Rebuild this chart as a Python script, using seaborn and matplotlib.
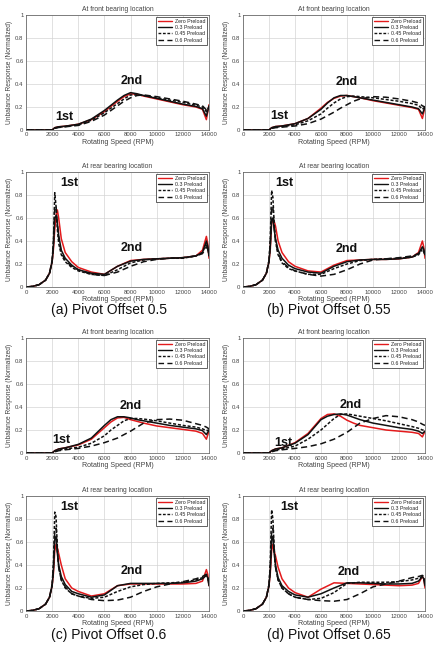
import numpy as np
import pandas as pd
import matplotlib
matplotlib.use("Agg")
import matplotlib.pyplot as plt
import seaborn as sns

# ---- data -----------------------------------------------------------------
labels = ["Zero Preload", "0.3 Preload", "0.45 Preload", "0.6 Preload"]

rpm_front = [0, 2000, 2200, 2500, 3000, 4000, 5000, 6000, 6500, 7000, 7500,
             8000, 8500, 9000, 10000, 11000, 12000, 13000, 13500, 13800, 14000]

rpm_rear = [0, 500, 1000, 1500, 1800, 2000, 2100, 2200, 2300, 2400, 2500, 2700,
            3000, 3500, 4000, 5000, 6000, 7000, 8000, 9000, 10000, 11000,
            12000, 13000, 13500, 13800, 13900, 14000]

# Pivot offset 0.5
front_a_zero = [0, 0, 0.02, 0.028, 0.033, 0.05, 0.09, 0.16, 0.205, 0.25, 0.29, 0.315, 0.31, 0.295, 0.27, 0.245, 0.22, 0.2, 0.18, 0.09, 0.22]
front_a_03 = [0, 0, 0.02, 0.028, 0.033, 0.05, 0.095, 0.17, 0.215, 0.26, 0.3, 0.325, 0.315, 0.3, 0.275, 0.25, 0.225, 0.205, 0.185, 0.12, 0.21]
front_a_045 = [0, 0, 0.015, 0.025, 0.03, 0.045, 0.085, 0.15, 0.19, 0.23, 0.27, 0.305, 0.305, 0.3, 0.28, 0.26, 0.24, 0.215, 0.2, 0.16, 0.2]
front_a_06 = [0, 0, 0.015, 0.022, 0.028, 0.04, 0.075, 0.13, 0.17, 0.21, 0.25, 0.28, 0.3, 0.305, 0.29, 0.27, 0.25, 0.225, 0.21, 0.175, 0.2]

rear_a_zero = [0, 0.005, 0.02, 0.06, 0.12, 0.22, 0.33, 0.5, 0.62, 0.67, 0.6, 0.42, 0.3, 0.22, 0.17, 0.13, 0.11, 0.18, 0.23, 0.24, 0.245, 0.25, 0.255, 0.27, 0.32, 0.44, 0.38, 0.25]
rear_a_03 = [0, 0.005, 0.02, 0.06, 0.12, 0.22, 0.36, 0.6, 0.62, 0.55, 0.45, 0.32, 0.25, 0.19, 0.15, 0.12, 0.11, 0.18, 0.225, 0.24, 0.245, 0.25, 0.255, 0.27, 0.3, 0.4, 0.36, 0.27]
rear_a_045 = [0, 0.005, 0.02, 0.06, 0.12, 0.23, 0.4, 0.82, 0.7, 0.5, 0.38, 0.28, 0.22, 0.17, 0.14, 0.11, 0.1, 0.15, 0.21, 0.235, 0.245, 0.25, 0.25, 0.27, 0.3, 0.38, 0.34, 0.27]
rear_a_06 = [0, 0.005, 0.02, 0.06, 0.12, 0.23, 0.38, 0.7, 0.7, 0.55, 0.42, 0.3, 0.23, 0.18, 0.15, 0.11, 0.1, 0.13, 0.18, 0.22, 0.24, 0.25, 0.255, 0.27, 0.29, 0.35, 0.33, 0.28]

# Pivot offset 0.55
front_b_zero = [0, 0, 0.02, 0.03, 0.035, 0.055, 0.1, 0.19, 0.24, 0.275, 0.295, 0.3, 0.29, 0.28, 0.255, 0.235, 0.215, 0.195, 0.18, 0.1, 0.2]
front_b_03 = [0, 0, 0.02, 0.03, 0.035, 0.055, 0.1, 0.18, 0.235, 0.28, 0.3, 0.3, 0.29, 0.28, 0.26, 0.24, 0.22, 0.2, 0.185, 0.14, 0.2]
front_b_045 = [0, 0, 0.015, 0.025, 0.03, 0.045, 0.08, 0.14, 0.19, 0.235, 0.27, 0.29, 0.295, 0.29, 0.28, 0.265, 0.25, 0.23, 0.215, 0.18, 0.2]
front_b_06 = [0, 0, 0.015, 0.02, 0.025, 0.035, 0.055, 0.095, 0.125, 0.155, 0.19, 0.22, 0.25, 0.27, 0.29, 0.285, 0.27, 0.25, 0.235, 0.21, 0.2]

rear_b_zero = [0, 0.005, 0.02, 0.06, 0.12, 0.22, 0.33, 0.55, 0.58, 0.57, 0.53, 0.4, 0.3, 0.22, 0.18, 0.14, 0.13, 0.19, 0.23, 0.235, 0.24, 0.24, 0.245, 0.26, 0.3, 0.4, 0.35, 0.25]
rear_b_03 = [0, 0.005, 0.02, 0.06, 0.12, 0.22, 0.36, 0.58, 0.6, 0.5, 0.42, 0.32, 0.25, 0.19, 0.16, 0.13, 0.12, 0.18, 0.22, 0.235, 0.24, 0.24, 0.245, 0.26, 0.29, 0.35, 0.33, 0.28]
rear_b_045 = [0, 0.005, 0.02, 0.06, 0.12, 0.23, 0.42, 0.84, 0.78, 0.55, 0.4, 0.28, 0.21, 0.16, 0.14, 0.11, 0.11, 0.16, 0.2, 0.23, 0.24, 0.245, 0.25, 0.26, 0.28, 0.33, 0.31, 0.28]
rear_b_06 = [0, 0.005, 0.02, 0.06, 0.12, 0.23, 0.38, 0.7, 0.7, 0.52, 0.4, 0.29, 0.22, 0.17, 0.14, 0.11, 0.095, 0.11, 0.15, 0.2, 0.235, 0.245, 0.255, 0.27, 0.29, 0.32, 0.31, 0.28]

# Pivot offset 0.6
front_c_zero = [0, 0, 0.02, 0.035, 0.045, 0.07, 0.12, 0.22, 0.27, 0.305, 0.31, 0.29, 0.275, 0.26, 0.235, 0.22, 0.205, 0.19, 0.17, 0.12, 0.19]
front_c_03 = [0, 0, 0.02, 0.035, 0.045, 0.075, 0.13, 0.24, 0.29, 0.315, 0.315, 0.305, 0.29, 0.28, 0.26, 0.24, 0.225, 0.21, 0.195, 0.16, 0.2]
front_c_045 = [0, 0, 0.015, 0.025, 0.035, 0.05, 0.085, 0.15, 0.2, 0.24, 0.28, 0.3, 0.3, 0.295, 0.28, 0.26, 0.24, 0.225, 0.21, 0.195, 0.2]
front_c_06 = [0, 0, 0.01, 0.02, 0.028, 0.04, 0.06, 0.09, 0.11, 0.13, 0.16, 0.19, 0.225, 0.26, 0.29, 0.295, 0.285, 0.255, 0.24, 0.225, 0.21]

rear_c_zero = [0, 0.005, 0.02, 0.06, 0.12, 0.22, 0.33, 0.52, 0.58, 0.55, 0.5, 0.4, 0.28, 0.2, 0.17, 0.13, 0.15, 0.22, 0.235, 0.235, 0.235, 0.235, 0.235, 0.24, 0.26, 0.36, 0.32, 0.22]
rear_c_03 = [0, 0.005, 0.02, 0.06, 0.12, 0.22, 0.36, 0.62, 0.65, 0.5, 0.4, 0.3, 0.23, 0.17, 0.15, 0.12, 0.14, 0.22, 0.24, 0.24, 0.24, 0.24, 0.245, 0.26, 0.28, 0.31, 0.29, 0.22]
rear_c_045 = [0, 0.005, 0.02, 0.06, 0.12, 0.23, 0.42, 0.86, 0.82, 0.55, 0.38, 0.27, 0.2, 0.15, 0.13, 0.11, 0.12, 0.17, 0.21, 0.23, 0.24, 0.245, 0.25, 0.27, 0.29, 0.31, 0.3, 0.23]
rear_c_06 = [0, 0.005, 0.02, 0.06, 0.12, 0.23, 0.38, 0.7, 0.72, 0.52, 0.38, 0.27, 0.21, 0.15, 0.13, 0.1, 0.09, 0.095, 0.12, 0.17, 0.21, 0.235, 0.255, 0.28, 0.3, 0.32, 0.31, 0.24]

# Pivot offset 0.65
front_d_zero = [0, 0, 0.02, 0.035, 0.045, 0.09, 0.17, 0.3, 0.335, 0.34, 0.32, 0.285, 0.26, 0.24, 0.22, 0.2, 0.19, 0.18, 0.17, 0.14, 0.19]
front_d_03 = [0, 0, 0.02, 0.035, 0.045, 0.085, 0.16, 0.29, 0.32, 0.335, 0.34, 0.33, 0.31, 0.29, 0.26, 0.24, 0.22, 0.205, 0.19, 0.17, 0.19]
front_d_045 = [0, 0, 0.015, 0.025, 0.035, 0.06, 0.12, 0.2, 0.25, 0.3, 0.335, 0.34, 0.33, 0.32, 0.3, 0.28, 0.255, 0.23, 0.215, 0.2, 0.2]
front_d_06 = [0, 0, 0.01, 0.02, 0.028, 0.04, 0.055, 0.08, 0.1, 0.12, 0.15, 0.18, 0.22, 0.26, 0.3, 0.325, 0.315, 0.29, 0.27, 0.25, 0.24]

rear_d_zero = [0, 0.005, 0.02, 0.06, 0.12, 0.22, 0.33, 0.52, 0.58, 0.52, 0.48, 0.38, 0.28, 0.2, 0.16, 0.12, 0.19, 0.245, 0.24, 0.235, 0.23, 0.225, 0.22, 0.225, 0.24, 0.3, 0.28, 0.2]
rear_d_03 = [0, 0.005, 0.02, 0.06, 0.12, 0.22, 0.36, 0.62, 0.65, 0.5, 0.4, 0.29, 0.22, 0.17, 0.14, 0.12, 0.15, 0.2, 0.245, 0.245, 0.24, 0.235, 0.235, 0.24, 0.26, 0.3, 0.28, 0.22]
rear_d_045 = [0, 0.005, 0.02, 0.06, 0.12, 0.23, 0.42, 0.88, 0.8, 0.55, 0.38, 0.27, 0.2, 0.15, 0.12, 0.1, 0.11, 0.16, 0.24, 0.25, 0.25, 0.25, 0.255, 0.27, 0.285, 0.3, 0.29, 0.24]
rear_d_06 = [0, 0.005, 0.02, 0.06, 0.12, 0.23, 0.38, 0.7, 0.72, 0.52, 0.38, 0.27, 0.2, 0.15, 0.12, 0.1, 0.09, 0.085, 0.1, 0.15, 0.21, 0.235, 0.26, 0.29, 0.3, 0.31, 0.3, 0.25]

captions = ["(a) Pivot Offset 0.5", "(b) Pivot Offset 0.55",
            "(c) Pivot Offset 0.6", "(d) Pivot Offset 0.65"]
x_ticks = [0, 2000, 4000, 6000, 8000, 10000, 12000, 14000]
y_ticks = [0, 0.2, 0.4, 0.6, 0.8, 1.0]
y_tick_labels = ["0", "0.2", "0.4", "0.6", "0.8", "1"]

# ---- style ----------------------------------------------------------------
sns.set_theme(style="whitegrid")
plt.rcParams["font.family"] = ["Liberation Sans", "DejaVu Sans"]

palette = {"Zero Preload": "#e31a1c", "0.3 Preload": "#111111",
           "0.45 Preload": "#111111", "0.6 Preload": "#111111"}
dashes = {"Zero Preload": "", "0.3 Preload": "",
          "0.45 Preload": (2.0, 1.2), "0.6 Preload": (4.0, 2.4)}

W, H = 434, 647
fig = plt.figure(figsize=(W / 100, H / 100), dpi=100)
fig.patch.set_facecolor("white")


def make_axes(left, right, top, bottom):
    return fig.add_axes([left / W, 1 - bottom / H, (right - left) / W, (bottom - top) / H])


def draw(ax, rpm, curves, title, first_pos, second_pos):
    frames = [pd.DataFrame({"rpm": rpm, "resp": vals, "preload": lab})
              for lab, vals in zip(labels, curves)]
    df = pd.concat(frames, ignore_index=True)
    sns.lineplot(data=df, x="rpm", y="resp", hue="preload", style="preload",
                 hue_order=labels, style_order=labels, palette=palette,
                 dashes=dashes, estimator=None, linewidth=1.1, ax=ax)
    ax.set_xlim(0, 14000)
    ax.set_ylim(0, 1)
    ax.set_xticks(x_ticks)
    ax.set_xticklabels([str(t) for t in x_ticks])
    ax.set_yticks(y_ticks)
    ax.set_yticklabels(y_tick_labels)
    ax.grid(True, color="#d4d4d4", linewidth=0.5)
    for sp in ax.spines.values():
        sp.set_color("#555555")
        sp.set_linewidth(0.5)
    ax.tick_params(direction="in", length=1.5, width=0.4, labelsize=4.3,
                   pad=1.8, colors="#555555", labelcolor="#444444")
    ax.set_title(title, fontsize=4.9, color="#444444", pad=3)
    ax.set_xlabel("Rotating Speed (RPM)", fontsize=5.1, color="#444444", labelpad=0.8)
    ax.set_ylabel("Unbalance Response (Normalized)", fontsize=4.8,
                  color="#444444", labelpad=1.5)
    handles, labs = ax.get_legend_handles_labels()
    leg = ax.legend(handles, labs, loc="upper right", fontsize=3.8,
                    frameon=True, fancybox=False, edgecolor="#222222",
                    framealpha=1, handlelength=2.6, handletextpad=0.6,
                    labelspacing=0.25, borderpad=0.35, borderaxespad=0.35)
    leg.get_frame().set_linewidth(0.5)
    for h in leg.get_lines():
        h.set_linewidth(1.0)
    ax.text(first_pos[0], first_pos[1], "1st", fontsize=9, fontweight="bold",
            ha="center", va="center", color="#111111")
    ax.text(second_pos[0], second_pos[1], "2nd", fontsize=9, fontweight="bold",
            ha="center", va="center", color="#111111")


cols = [(26, 209), (243, 425)]
rows = [(15, 130), (172, 287), (338, 453), (496, 611)]

panels = [
    (0, 0, rpm_front, [front_a_zero, front_a_03, front_a_045, front_a_06],
     "At front bearing location", (2900, 0.115), (8100, 0.43)),
    (0, 1, rpm_front, [front_b_zero, front_b_03, front_b_045, front_b_06],
     "At front bearing location", (2800, 0.12), (8000, 0.42)),
    (1, 0, rpm_rear, [rear_a_zero, rear_a_03, rear_a_045, rear_a_06],
     "At rear bearing location", (3300, 0.90), (8100, 0.34)),
    (1, 1, rpm_rear, [rear_b_zero, rear_b_03, rear_b_045, rear_b_06],
     "At rear bearing location", (3200, 0.90), (8000, 0.33)),
    (2, 0, rpm_front, [front_c_zero, front_c_03, front_c_045, front_c_06],
     "At front bearing location", (2700, 0.115), (8000, 0.41)),
    (2, 1, rpm_front, [front_d_zero, front_d_03, front_d_045, front_d_06],
     "At front bearing location", (3100, 0.09), (8300, 0.42)),
    (3, 0, rpm_rear, [rear_c_zero, rear_c_03, rear_c_045, rear_c_06],
     "At rear bearing location", (3350, 0.90), (8050, 0.35)),
    (3, 1, rpm_rear, [rear_d_zero, rear_d_03, rear_d_045, rear_d_06],
     "At rear bearing location", (3550, 0.90), (8150, 0.34)),
]

for r, c, rpm, curves, title, p1, p2 in panels:
    top, bottom = rows[r]
    left, right = cols[c]
    ax = make_axes(left, right, top, bottom)
    draw(ax, rpm, curves, title, p1, p2)

# captions under each pair of front/rear plots
caption_pos = [(51, 310), (267, 310), (51, 635), (267, 635)]
for cap, (cx, cy) in zip(captions, caption_pos):
    fig.text(cx / W, 1 - cy / H, cap, fontsize=10, ha="left", va="center",
             color="#111111")

fig.savefig("out.png", dpi=100, facecolor="white")
